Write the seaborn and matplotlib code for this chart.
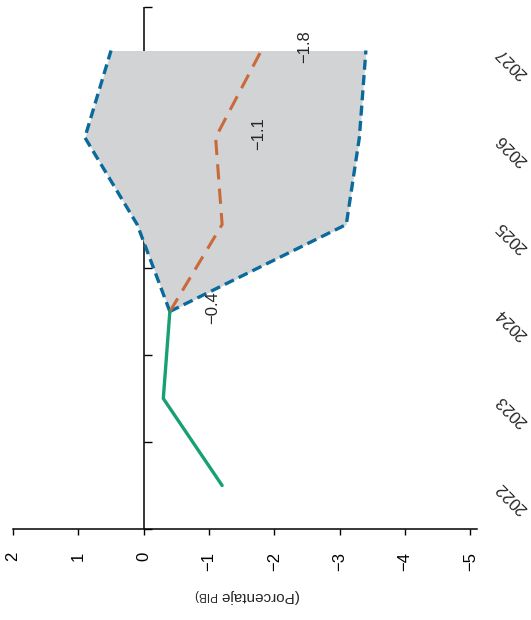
import numpy as np
import pandas as pd
import matplotlib
matplotlib.use("Agg")
import matplotlib.pyplot as plt
import seaborn as sns

# chart values (porcentaje del PIB)
years_hist = [2022, 2023, 2024]
vals_hist = [-1.2, -0.3, -0.4]

years_proj = [2024, 2025, 2026, 2027]
vals_central = [-0.4, -1.2, -1.1, -1.8]
vals_upper = [-0.4, 0.1, 0.9, 0.5]
vals_lower = [-0.4, -3.1, -3.3, -3.4]

label_years = [2024, 2026, 2027]
label_vals = [-0.4, -1.1, -1.8]

all_years = [2022, 2023, 2024, 2025, 2026, 2027]
value_ticks = [2, 1, 0, -1, -2, -3, -4, -5]

GREEN = "#17a071"
ORANGE = "#c96a3b"
BLUE = "#0b6a9c"
FILL = "#d2d3d5"

sns.set_style("white")
plt.rcParams["font.family"] = ["Liberation Sans Narrow", "Liberation Sans", "DejaVu Sans"]

fig = plt.figure(figsize=(5.31, 6.2), dpi=100)
ax = fig.add_axes([13 / 531, 91 / 620, 464 / 531, 522 / 620])

hist = pd.DataFrame({"year": years_hist, "value": vals_hist})
proj = pd.DataFrame({"year": years_proj, "central": vals_central,
                     "upper": vals_upper, "lower": vals_lower})

# zero line (under the fan)
ax.axvline(0, color="black", lw=1.1, zorder=0.5)

ax.fill_betweenx(proj["year"], proj["lower"], proj["upper"], color=FILL, lw=0, zorder=1)

sns.lineplot(data=proj, x="upper", y="year", orient="y", ax=ax, color=BLUE,
             lw=2.4, linestyle=(0, (3.0, 1.6)), zorder=3)
sns.lineplot(data=proj, x="lower", y="year", orient="y", ax=ax, color=BLUE,
             lw=2.4, linestyle=(0, (3.0, 1.6)), zorder=3)
sns.lineplot(data=proj, x="central", y="year", orient="y", ax=ax, color=ORANGE,
             lw=2.2, linestyle=(0, (5.0, 3.0)), zorder=4)
sns.lineplot(data=hist, x="value", y="year", orient="y", ax=ax, color=GREEN,
             lw=2.4, zorder=5)

for yr, v in zip(label_years, label_vals):
    ax.annotate(f"\u2212{abs(v):.1f}", xy=(v, yr), xytext=(31, 3),
                textcoords="offset points", rotation=90, ha="center",
                va="center", fontsize=12)

ax.set_xlim(2, -5.1)
ax.set_ylim(2021.5, 2027.5)
ax.set_xticks(value_ticks)
ax.set_xticklabels([f"\u2212{abs(t)}" if t < 0 else str(t) for t in value_ticks])
ax.tick_params(axis="x", direction="out", length=4.5, width=1.0, pad=12,
               rotation=90, labelsize=12, bottom=True, colors="black")

# year boundaries as ticks on the zero line
ax.spines["left"].set_position(("data", 0))
ax.spines["left"].set_visible(False)
ax.set_yticks(np.arange(2021.5, 2028.0, 1.0))
ax.tick_params(axis="y", direction="in", length=6, width=1.0, left=True,
               labelleft=False, colors="black")
for s in ["top", "right"]:
    ax.spines[s].set_visible(False)
ax.spines["bottom"].set_color("black")
ax.spines["bottom"].set_linewidth(1.1)
ax.set_xlabel("")
ax.set_ylabel("")

sec = ax.secondary_yaxis("right")
sec.set_yticks(all_years)
sec.set_yticklabels([str(y) for y in all_years])
sec.tick_params(length=0, pad=12, labelsize=12, rotation=135)
sec.spines["right"].set_visible(False)

# axis title, upside down
fig.text(220 / 531, 28 / 620, "(Porcentaje", rotation=180, rotation_mode="anchor",
         ha="right", va="baseline", fontsize=11)
fig.text(216 / 531, 28 / 620, "PIB)", rotation=180, rotation_mode="anchor",
         ha="left", va="baseline", fontsize=8.5)

fig.savefig("out.png", dpi=100)
